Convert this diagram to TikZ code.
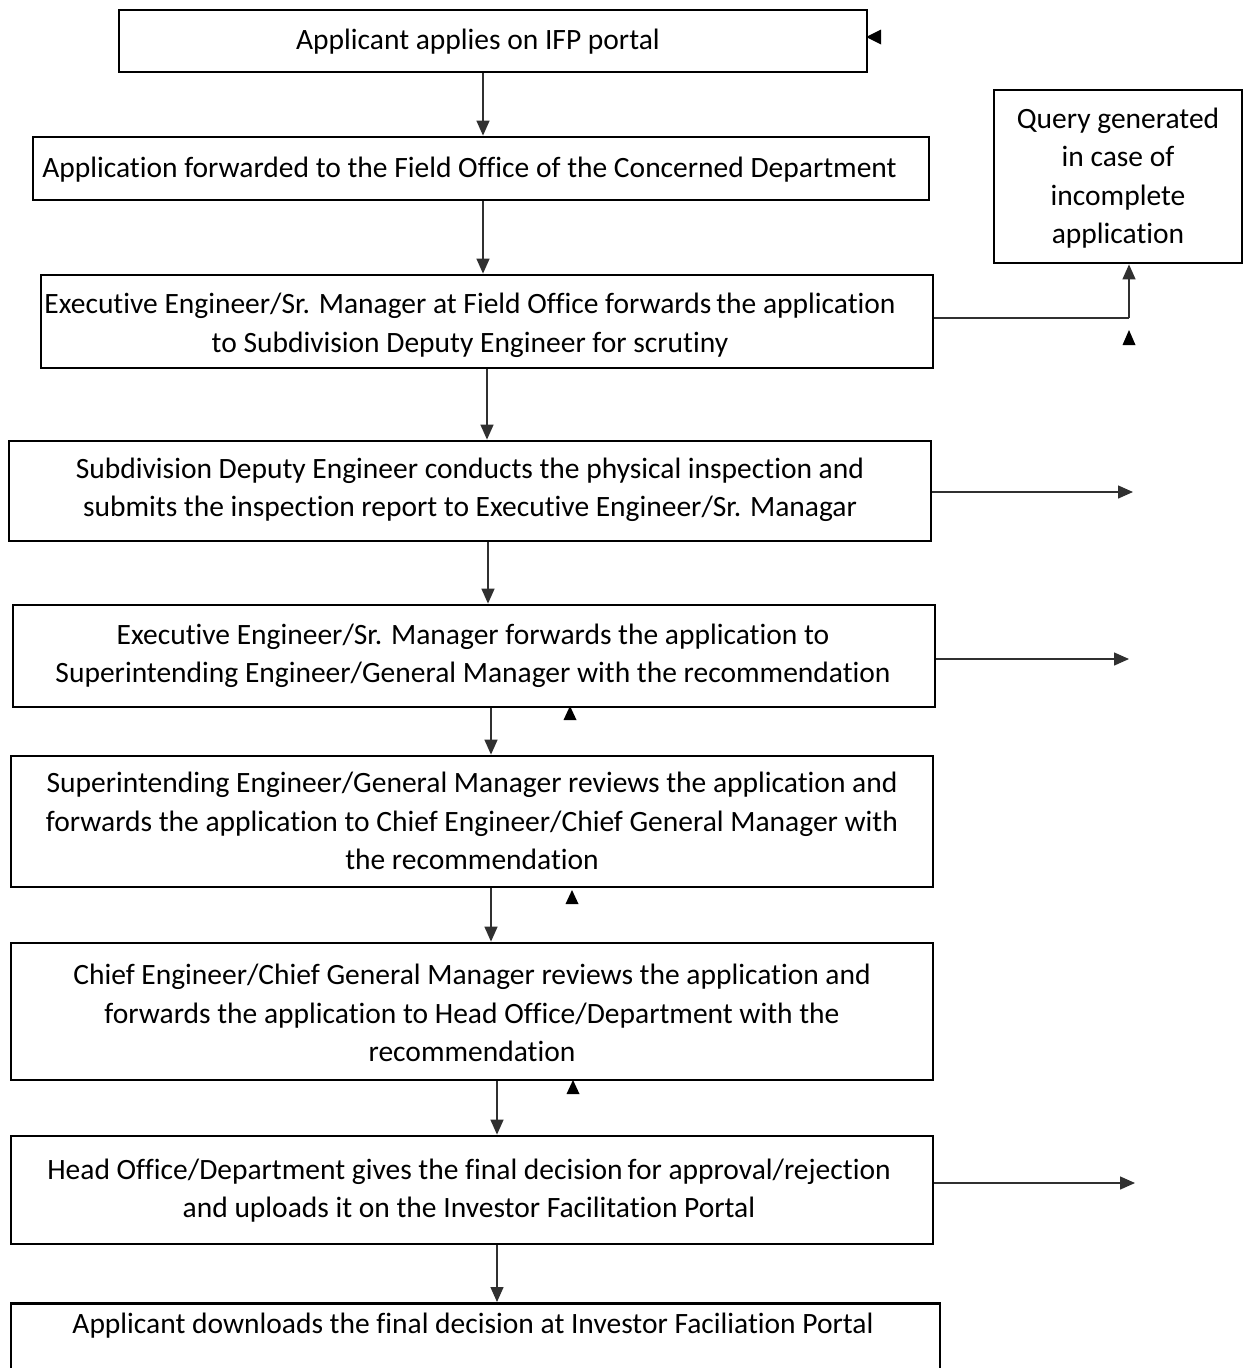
\documentclass[tikz,border=0pt]{standalone}
\usepackage{fontspec}
\setmainfont{Carlito}[Ligatures={NoCommon}]
\usetikzlibrary{arrows.meta}
\definecolor{arrgray}{HTML}{303030}
\newcommand\bt[3]{\hspace*{#1}\raisebox{#2}[\height][\depth]{\begin{tabular}{@{}c@{}}#3\end{tabular}}}
\tikzset{
  box/.style={draw=black, line width=2.8pt, inner sep=0pt,
    font=\fontsize{29.5}{38.5}\selectfont},
  arr/.style={draw=arrgray, line width=1.4pt, -{Triangle[width=13pt,length=15pt]}},
  ln/.style={draw=arrgray, line width=1.6pt},
  tri/.style={fill=black}
}
\begin{document}
\begin{tikzpicture}[x=1pt,y=-1pt]
\useasboundingbox (0,0) rectangle (1248,1368);
\begin{scope}
\clip (0,0) rectangle (1248,1368);
\node[box, minimum width=748, minimum height=62] (b1) at (493,41) {\bt{-30pt}{-1pt}{Applicant applies on IFP portal}};
\node[box, minimum width=896, minimum height=63] (b2) at (481,168.5) {\bt{-23pt}{-1pt}{Application forwarded to the Field Office of the Concerned Department}};
\node[box, minimum width=892, minimum height=93] (b3) at (487,321.5) {\bt{-34pt}{-4pt}{Executive Engineer/Sr. Manager at Field Office forwards\,the application\\to Subdivision Deputy Engineer for scrutiny}};
\node[box, minimum width=248, minimum height=173] (q) at (1118,176.5) {\bt{0pt}{-2pt}{Query generated\\in case of\\incomplete\\application}};
\node[box, minimum width=922, minimum height=100] (b4) at (470,491) {\bt{0pt}{1pt}{Subdivision Deputy Engineer conducts the physical inspection and\\submits the inspection report to Executive Engineer/Sr. Managar}};
\node[box, minimum width=922, minimum height=102] (b5) at (474,656) {\bt{-2pt}{0pt}{Executive Engineer/Sr. Manager forwards the application to\\Superintending Engineer/General Manager with the recommendation}};
\node[box, minimum width=922, minimum height=131] (b6) at (472,821.5) {\bt{0pt}{-2pt}{Superintending Engineer/General Manager reviews the application and\\forwards the application to Chief Engineer/Chief General Manager with\\the recommendation}};
\node[box, minimum width=922, minimum height=137] (b7) at (472,1011.5) {\bt{0pt}{-4pt}{Chief Engineer/Chief General Manager reviews the application and\\forwards the application to Head Office/Department with the\\recommendation}};
\node[box, minimum width=922, minimum height=108] (b8) at (472,1190) {\bt{-6pt}{-1pt}{Head Office/Department gives the final decision\,for approval/rejection\\and uploads it on the Investor Facilitation Portal}};
\node[box, minimum width=929, minimum height=130, anchor=north] (b9) at (475.5,1302) {};
\node[font=\fontsize{29.5}{38.5}\selectfont, inner sep=0pt] (t9) at (473,1326) {Applicant downloads the final decision at Investor Faciliation Portal};
\end{scope}
% vertical flow arrows
\draw[arr] (b1.south -| 483,0) -- (b2.north -| 483,0);
\draw[arr] (b2.south -| 483,0) -- (b3.north -| 483,0);
\draw[arr] (b3.south -| 487,0) -- (b4.north -| 487,0);
\draw[arr] (b4.south -| 488,0) -- (b5.north -| 488,0);
\draw[arr] (b5.south -| 491,0) -- (b6.north -| 491,0);
\draw[arr] (b6.south -| 491,0) -- (b7.north -| 491,0);
\draw[arr] (b7.south -| 497,0) -- (b8.north -| 497,0);
\draw[arr] (b8.south -| 497,0) -- (b9.north -| 497,0);
% query connector
\coordinate (qa) at (1129,318);
\draw[ln] (b3.east |- qa) -- (qa);
\draw[arr] (qa) -- (qa |- q.south);
% right outgoing arrows
\coordinate (r4) at (1133,492);
\coordinate (r5) at (1129,659);
\coordinate (r8) at (1135,1183);
\draw[arr] (b4.east |- r4) -- (r4);
\draw[arr] (b5.east |- r5) -- (r5);
\draw[arr] (b8.east |- r8) -- (r8);
% loose arrowheads
\fill[tri] (866,37) -- (881,29.5) -- (881,44.5) -- cycle;
\fill[tri] (1129,330) -- (1122.5,345) -- (1135.5,345) -- cycle;
\fill[tri] (570,706) -- (563.5,720) -- (576.5,720) -- cycle;
\fill[tri] (572,890) -- (565.5,904) -- (578.5,904) -- cycle;
\fill[tri] (573,1080) -- (566.5,1094) -- (579.5,1094) -- cycle;
\end{tikzpicture}
\end{document}
